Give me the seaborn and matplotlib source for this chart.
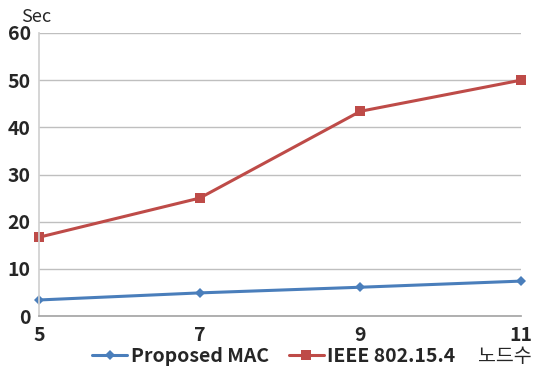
import matplotlib
matplotlib.use("Agg")
import matplotlib.pyplot as plt
from matplotlib.lines import Line2D
import seaborn as sns
import pandas as pd

# Delay (seconds) versus number of nodes
nodes = [5, 7, 9, 11]
proposed_mac = [3.4, 4.9, 6.1, 7.4]
ieee_802154 = [16.7, 25.0, 43.4, 50.0]
series_names = ["Proposed MAC", "IEEE 802.15.4"]
y_ticks = [0, 10, 20, 30, 40, 50, 60]

df = pd.DataFrame({
    "nodes": nodes * 2,
    "delay": proposed_mac + ieee_802154,
    "series": [series_names[0]] * len(nodes) + [series_names[1]] * len(nodes),
})

sns.set_theme(style="white")
plt.rcParams["font.family"] = ["Noto Sans CJK KR", "DejaVu Sans"]

fig = plt.figure(figsize=(5.34, 3.69), dpi=100)
ax = fig.add_axes([0.073, 0.1436, 0.9027, 0.767])

palette = {series_names[0]: "#4a7ebb", series_names[1]: "#be4b48"}
sns.lineplot(data=df, x="nodes", y="delay", hue="series", style="series",
             markers={series_names[0]: "D", series_names[1]: "s"},
             dashes=False, palette=palette, linewidth=2.2,
             markersize=6, markeredgewidth=0, ax=ax, legend=False)
for line, ms in zip(ax.lines, [5.5, 7.5]):
    line.set_markersize(ms)
    line.set_clip_on(False)

ax.set_xlim(5, 11)
ax.set_ylim(0, 60)
ax.set_xticks(nodes)
ax.set_yticks(y_ticks)
ax.set_xlabel("")
ax.set_ylabel("")
ax.yaxis.grid(True, color="#bfbfbf", linewidth=1)
ax.set_axisbelow(True)

for side in ["top", "right"]:
    ax.spines[side].set_visible(False)
ax.spines["left"].set_color("#d0d0d0")
ax.spines["bottom"].set_color("#a6a6a6")
ax.tick_params(axis="x", length=5, color="#a6a6a6", width=1, pad=2)
ax.tick_params(axis="y", length=5, color="#bfbfbf", width=1, pad=1)
for lab in ax.get_xticklabels() + ax.get_yticklabels():
    lab.set_fontsize(14)
    lab.set_fontweight("bold")

fig.text(0.04, 0.93, "Sec", fontsize=13, ha="left", va="bottom")
fig.text(0.995, 0.005, "노드수", fontsize=14, ha="right", va="bottom")

handles = [
    Line2D([], [], color=palette[series_names[0]], marker="D", markersize=5.5,
           markeredgewidth=0, linewidth=2.2),
    Line2D([], [], color=palette[series_names[1]], marker="s", markersize=7.5,
           markeredgewidth=0, linewidth=2.2),
]
fig.legend(handles, series_names, loc="lower left",
           bbox_to_anchor=(0.14, -0.04), ncol=2, frameon=False,
           handlelength=1.8, handletextpad=0.2, columnspacing=1.0,
           prop={"size": 14, "weight": "bold"})

fig.savefig("out.png", dpi=100)
